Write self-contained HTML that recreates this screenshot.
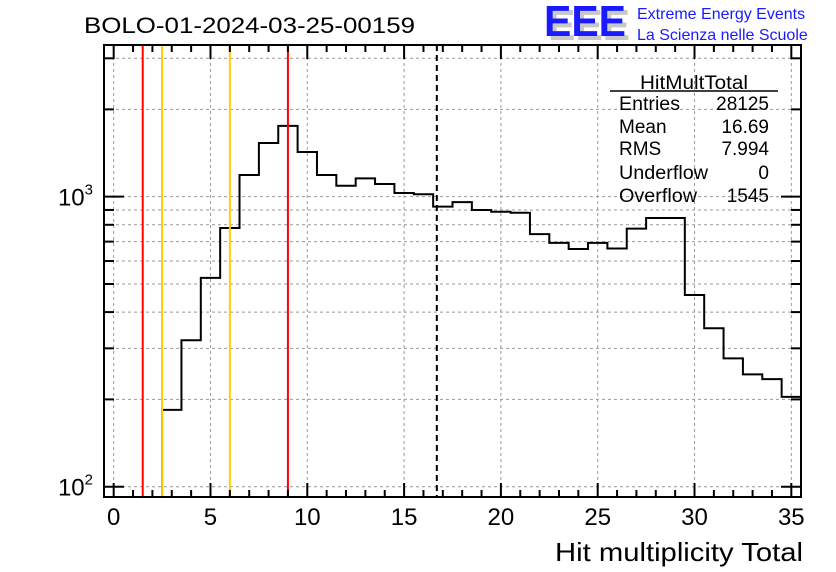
<!DOCTYPE html>
<html><head><meta charset="utf-8"><style>
html,body{margin:0;padding:0;background:#fff;}
svg{display:block;font-family:"Liberation Sans",sans-serif;}
</style></head><body>
<svg id="chart" width="836" height="572" viewBox="0 0 836 572" xmlns="http://www.w3.org/2000/svg">
<rect width="836" height="572" fill="#fff"/>
<text x="84" y="33" font-size="22" textLength="331" lengthAdjust="spacingAndGlyphs">BOLO-01-2024-03-25-00159</text>
<g>
<text x="548" y="40" font-size="44" font-weight="bold" fill="#c8c8c8" textLength="82" lengthAdjust="spacingAndGlyphs">EEE</text>
<text x="544" y="36" font-size="44" font-weight="bold" fill="#1a1aff" textLength="82" lengthAdjust="spacingAndGlyphs">EEE</text>
<text x="637" y="19" font-size="16" fill="#1a1aff">Extreme Energy Events</text>
<text x="637" y="40" font-size="16" fill="#1a1aff">La Scienza nelle Scuole</text>
</g>
<g id="grid"></g>
<g id="marks"></g>
<g id="axes"></g>
<g font-size="19">
<text x="640" y="89" textLength="108" lengthAdjust="spacingAndGlyphs">HitMultTotal</text>
<line x1="610" y1="91" x2="778" y2="91" stroke="#000" stroke-width="1.5"/>
<text x="619" y="110" textLength="61" lengthAdjust="spacingAndGlyphs">Entries</text><text x="769" y="110" text-anchor="end">28125</text>
<text x="619" y="133">Mean</text><text x="769" y="133" text-anchor="end">16.69</text>
<text x="619" y="155">RMS</text><text x="769" y="155" text-anchor="end">7.994</text>
<text x="619" y="179" textLength="89" lengthAdjust="spacingAndGlyphs">Underflow</text><text x="769" y="179" text-anchor="end">0</text>
<text x="619" y="202" textLength="78" lengthAdjust="spacingAndGlyphs">Overflow</text><text x="769" y="202" text-anchor="end">1545</text>
</g>
<text x="803" y="561" font-size="26" text-anchor="end" textLength="248" lengthAdjust="spacingAndGlyphs">Hit multiplicity Total</text>
</svg>
<script>
const binCenters = [0,1,2,3,4,5,6,7,8,9,10,11,12,13,14,15,16,17,18,19,20,21,22,23,24,25,26,27,28,29,30,31,32,33,34,35];
const counts = [0,0,0,184,320,525,780,1188,1531,1754,1426,1188,1091,1157,1106,1030,1020,924,958,900,887,880,743,693,660,693,663,776,844,844,458,352,277,244,235,204];
const xTickLabels = [0,5,10,15,20,25,30,35];
const yTickLabels = ["10","10"];
const yTickExps = [2,3];
const cutLines = [1.5,2.5,6,9];
const cutColors = ["#ff0000","#ffcc00","#ffcc00","#ff0000"];
const meanValue = 16.69;

const L=104,R=801,T=45,B=497,XMIN=-0.5,XMAX=35.5;
const LOGMIN=1.9645,LOGMAX=3.523;
const NS="http://www.w3.org/2000/svg";
function sx(v){return L+(v-XMIN)/(XMAX-XMIN)*(R-L);}
function sy(v){if(v<=0)return B;const l=Math.log10(v);return B-(l-LOGMIN)/(LOGMAX-LOGMIN)*(B-T);}
function mk(tag,attrs,parent){const e=document.createElementNS(NS,tag);for(const k in attrs)e.setAttribute(k,attrs[k]);parent.appendChild(e);return e;}
const grid=document.getElementById('grid'),marks=document.getElementById('marks'),axes=document.getElementById('axes');
xTickLabels.forEach(v=>{const g=mk('line',{x1:sx(v),x2:sx(v),y1:T,y2:B,stroke:'#999','stroke-dasharray':'3,3','stroke-width':1},grid);

});
const yMinor=[];
for(let d=100;d<=1000;d*=10)for(let m=1;m<=9;m++){const v=d*m;const l=Math.log10(v);if(l>=LOGMIN&&l<=LOGMAX)yMinor.push(v);}
yMinor.forEach(v=>{const g=mk('line',{x1:L,x2:R,y1:sy(v),y2:sy(v),stroke:'#999','stroke-dasharray':'3,3','stroke-width':1},grid);

});
let d='';let started=false;
for(let i=0;i<counts.length;i++){const x0=sx(binCenters[i]-0.5),x1=sx(binCenters[i]+0.5);const y=Math.max(T,Math.min(B,sy(counts[i])));
if(counts[i]<=0){continue;}
if(!started){d+=`M${x0},${B} L${x0},${y} `;started=true;}else d+=`L${x0},${y} `;
d+=`L${x1},${y} `;}
const h=mk('path',{d:d,fill:'none',stroke:'#000','stroke-width':2},marks);


cutLines.forEach((v,i)=>{const c=mk('line',{x1:sx(v),x2:sx(v),y1:T,y2:B,stroke:cutColors[i],'stroke-width':2},marks);

});
const ml=mk('line',{x1:sx(meanValue),x2:sx(meanValue),y1:T,y2:B,stroke:'#000','stroke-width':2,'stroke-dasharray':'6,4'},marks);


const fr=mk('rect',{x:L,y:T,width:R-L,height:B-T,fill:'none',stroke:'#000','stroke-width':2},axes);


for(let v=0;v<=35;v++){const maj=v%5===0;const len=maj?14:7;const x=sx(v);
mk('line',{x1:x,x2:x,y1:B,y2:B-len,stroke:'#000','stroke-width':2},axes);
mk('line',{x1:x,x2:x,y1:T,y2:T+len,stroke:'#000','stroke-width':2},axes);}
xTickLabels.forEach(v=>{const t=mk('text',{x:sx(v),y:525,'font-size':24,'text-anchor':'middle'},axes);t.textContent=v;

});
yMinor.forEach(v=>{const maj=[100,1000].includes(v);const len=maj?20:10;const y=sy(v);
mk('line',{x1:L,x2:L+len,y1:y,y2:y,stroke:'#000','stroke-width':2},axes);
mk('line',{x1:R,x2:R-len,y1:y,y2:y,stroke:'#000','stroke-width':2},axes);});
yTickExps.forEach((e,i)=>{const y=sy(Math.pow(10,e));const t=mk('text',{x:93,y:y+9,'font-size':24,'text-anchor':'end'},axes);
t.textContent=yTickLabels[i];


const s=mk('tspan',{dy:-11,'font-size':15},t);s.textContent=e;});
</script>
</body></html>
